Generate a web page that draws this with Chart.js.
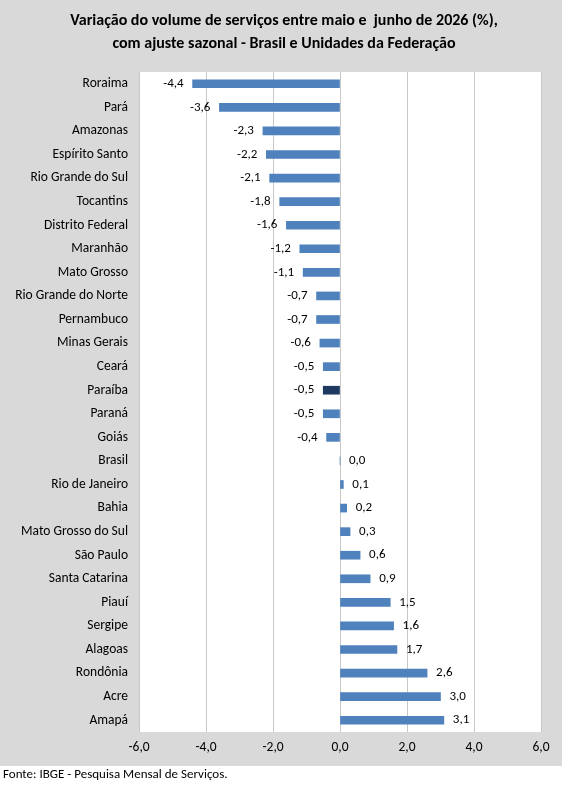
<!DOCTYPE html>
<html>
<head>
<meta charset="utf-8">
<script src="https://cdn.jsdelivr.net/npm/chart.js@4"></script>
<style>
  html, body { margin: 0; padding: 0; background: #fff; }
  canvas { display: block; }
</style>
</head>
<body>
<canvas id="servChart" width="569" height="787"></canvas>
<script>
const categories = [
  'Roraima', 'Pará', 'Amazonas', 'Espírito Santo', 'Rio Grande do Sul', 'Tocantins',
  'Distrito Federal', 'Maranhão', 'Mato Grosso', 'Rio Grande do Norte', 'Pernambuco',
  'Minas Gerais', 'Ceará', 'Paraíba', 'Paraná', 'Goiás', 'Brasil', 'Rio de Janeiro',
  'Bahia', 'Mato Grosso do Sul', 'São Paulo', 'Santa Catarina', 'Piauí', 'Sergipe',
  'Alagoas', 'Rondônia', 'Acre', 'Amapá'
];
const variacao = [
  -4.4, -3.6, -2.3, -2.2, -2.1, -1.8,
  -1.6, -1.2, -1.1, -0.7, -0.7,
  -0.6, -0.5, -0.5, -0.5, -0.4, 0.0, 0.1,
  0.2, 0.3, 0.6, 0.9, 1.5, 1.6,
  1.7, 2.6, 3.0, 3.1
];
const xTicks = [-6, -4, -2, 0, 2, 4, 6];
const destaque = 'Paraíba';

const titleLines = [
  'Variação do volume de serviços entre maio e  junho de 2026 (%),',
  'com ajuste sazonal - Brasil e Unidades da Federação'
];
const fonte = 'Fonte: IBGE - Pesquisa Mensal de Serviços.';

const FONT = 'Carlito, Lato, "Liberation Sans", sans-serif';
const fmt = v => (Math.abs(v) < 1e-9 ? 0 : v).toFixed(1).replace('.', ',');

// background, white plot area, title, footer, value labels
const decor = {
  id: 'decor',
  beforeDraw(chart) {
    const { ctx, chartArea: a } = chart;
    ctx.save();
    ctx.fillStyle = '#d9d9d9';
    ctx.fillRect(0, 0, 562, 766);
    ctx.fillStyle = '#ffffff';
    ctx.fillRect(a.left, a.top, a.right - a.left, a.bottom - a.top);
    ctx.restore();
  },
  afterDraw(chart) {
    const { ctx } = chart;
    ctx.save();
    ctx.fillStyle = '#000';
    ctx.textAlign = 'center';
    ctx.textBaseline = 'middle';
    ctx.font = 'bold 16px ' + FONT;
    ctx.fillText(titleLines[0], 284, 21);
    ctx.fillText(titleLines[1], 284, 44);
    ctx.textAlign = 'left';
    ctx.font = '13px ' + FONT;
    ctx.fillText(fonte, 3, 775);
    ctx.restore();
  },
  afterDatasetsDraw(chart) {
    const { ctx } = chart;
    const meta = chart.getDatasetMeta(0);
    ctx.save();
    ctx.font = '13px ' + FONT;
    ctx.fillStyle = '#000';
    ctx.textBaseline = 'middle';
    meta.data.forEach((bar, i) => {
      const v = variacao[i];
      if (v < 0) {
        ctx.textAlign = 'right';
        ctx.fillText(fmt(v), bar.x - 9, bar.y);
      } else {
        ctx.textAlign = 'left';
        ctx.fillText(fmt(v), bar.x + 9, bar.y);
      }
    });
    ctx.restore();
  }
};

new Chart(document.getElementById('servChart').getContext('2d'), {
  type: 'bar',
  data: {
    labels: categories,
    datasets: [{
      data: variacao,
      backgroundColor: categories.map(c => c === destaque ? '#1f3a60' : '#4f81bd'),
      borderWidth: 0,
      barThickness: 8
    }]
  },
  options: {
    indexAxis: 'y',
    responsive: false,
    animation: false,
    layout: { padding: { top: 72, right: 28, bottom: 21, left: 0 } },
    plugins: {
      legend: { display: false },
      tooltip: { enabled: false },
      title: { display: false }
    },
    scales: {
      x: {
        min: xTicks[0],
        max: xTicks[xTicks.length - 1],
        afterBuildTicks: scale => { scale.ticks = xTicks.map(v => ({ value: v })); },
        afterFit: scale => { scale.height = 34; },
        ticks: {
          color: '#000',
          font: { family: FONT, size: 13.5 },
          padding: 8,
          callback: v => fmt(v)
        },
        grid: { display: true, drawOnChartArea: true, color: '#c8c8c8', lineWidth: 1, drawTicks: false },
        border: { display: false }
      },
      y: {
        afterFit: scale => { scale.width = 139; },
        ticks: {
          color: '#000',
          font: { family: FONT, size: 13.5 },
          padding: 11,
          autoSkip: false
        },
        grid: { display: false, drawTicks: false },
        border: { display: false }
      }
    }
  },
  plugins: [decor]
});
</script>
</body>
</html>
